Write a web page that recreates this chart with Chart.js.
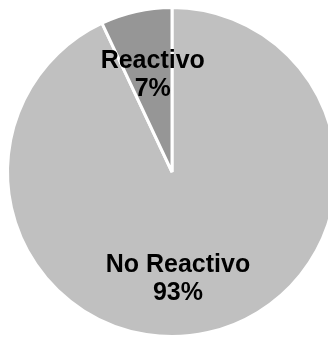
<!DOCTYPE html>
<html>
<head>
<meta charset="utf-8">
<script src="https://cdn.jsdelivr.net/npm/chart.js@4/dist/chart.umd.min.js"></script>
<style>
  html, body { margin: 0; padding: 0; background: #fff; overflow: hidden; }
  #wrap { width: 344px; height: 344px; }
</style>
</head>
<body>
<div id="wrap"><canvas id="pie" width="344" height="344"></canvas></div>
<script>
const categories = ['No Reactivo', 'Reactivo'];
const percentages = [93, 7];
const sliceColors = ['#c0c0c0', '#969696'];

// label placement: fraction of radius along the slice's middle angle, plus a small nudge
const labelFrac = [0.64, 0.62];
const labelNudge = [[-17, 4], [3, 3]];

const sliceLabels = {
    id: 'sliceLabels',
    afterDatasetsDraw(chart) {
        const ctx = chart.ctx;
        const meta = chart.getDatasetMeta(0);
        ctx.save();
        ctx.fillStyle = '#000';
        ctx.font = 'bold 25px "Liberation Sans", Arial, sans-serif';
        ctx.textAlign = 'center';
        ctx.textBaseline = 'middle';
        meta.data.forEach((arc, i) => {
            const mid = (arc.startAngle + arc.endAngle) / 2;
            const r = arc.outerRadius * labelFrac[i];
            const x = arc.x + Math.cos(mid) * r + labelNudge[i][0];
            const y = arc.y + Math.sin(mid) * r + labelNudge[i][1];
            ctx.fillText(categories[i], x, y - 14);
            ctx.fillText(percentages[i] + '%', x, y + 14);
        });
        ctx.restore();
    }
};

new Chart(document.getElementById('pie').getContext('2d'), {
    type: 'pie',
    data: {
        labels: categories,
        datasets: [{
            data: percentages,
            backgroundColor: sliceColors,
            borderColor: '#ffffff',
            borderWidth: 3
        }]
    },
    options: {
        responsive: false,
        animation: false,
        layout: { padding: 6 },
        plugins: {
            legend: { display: false },
            tooltip: { enabled: false }
        }
    },
    plugins: [sliceLabels]
});
</script>
</body>
</html>
